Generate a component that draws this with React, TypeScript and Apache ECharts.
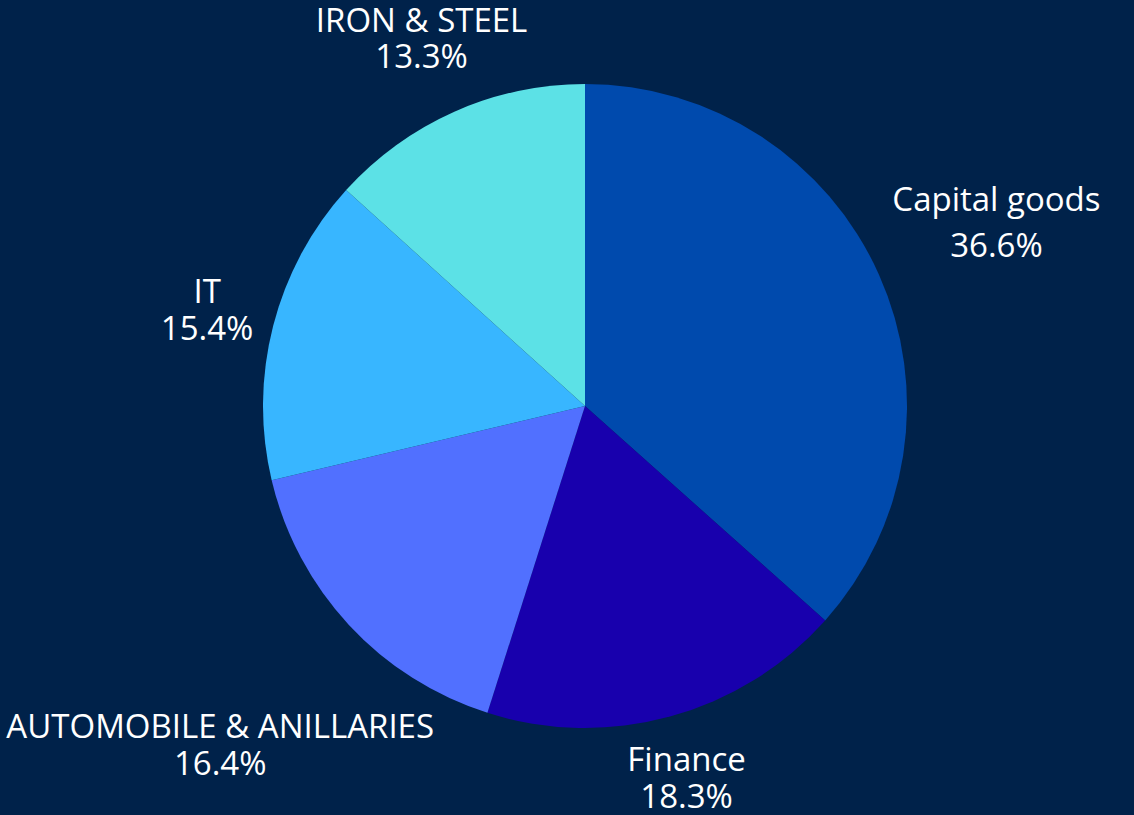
import React, { useEffect, useRef } from "react";
import * as echarts from "echarts";

const categories = ["Capital goods", "Finance", "AUTOMOBILE & ANILLARIES", "IT", "IRON & STEEL"];
const shares = [36.6, 18.3, 16.4, 15.4, 13.3];
const colors = ["#004AAD", "#1800AD", "#5170FF", "#38B6FF", "#5CE1E6"];
const lineHeights = [46, 37, 37, 37, 36];

const W = 1134;
const H = 815;
const CX = 585;
const CY = 406;
const R = 322;
const GAP = 15;

export default function App() {
  const ref = useRef<HTMLDivElement>(null);
  useEffect(() => {
    if (!ref.current) return;
    const chart = echarts.init(ref.current, undefined, { renderer: "svg" });
    const total = shares.reduce((s, v) => s + v, 0);
    const option = {
      animation: false,
      backgroundColor: "#00224A",
      series: [
        {
          type: "pie",
          center: [CX, CY],
          radius: [0, R],
          startAngle: 90,
          clockwise: true,
          avoidLabelOverlap: false,
          itemStyle: { borderWidth: 0 },
          label: {
            show: true,
            position: "outside",
            formatter: "{b}\n{c}%",
            color: "#ffffff",
            fontFamily: "'Open Sans', sans-serif",
            fontSize: 33,
            lineHeight: 37,
            align: "center",
          },
          labelLine: { show: false },
          labelLayout: (p: any) => {
            const i = p.dataIndex;
            let start = 0;
            for (let k = 0; k < i; k++) start += shares[k];
            const mid = ((start + shares[i] / 2) / total) * Math.PI * 2;
            const dx = Math.sin(mid);
            const dy = -Math.cos(mid);
            const a = p.labelRect.width / 2;
            const b = p.labelRect.height / 2;
            const target = R + GAP;
            let lo = 0;
            let hi = 2000;
            for (let n = 0; n < 60; n++) {
              const t = (lo + hi) / 2;
              const ex = Math.max(0, Math.abs(t * dx) - a);
              const ey = Math.max(0, Math.abs(t * dy) - b);
              const d = Math.hypot(ex, ey);
              if (d < target) lo = t;
              else hi = t;
            }
            const t = (lo + hi) / 2;
            return { x: CX + t * dx, y: CY + t * dy, align: "center", verticalAlign: "middle" };
          },
          data: categories.map((name, i) => ({
            name,
            value: shares[i],
            itemStyle: { color: colors[i] },
            label: { lineHeight: lineHeights[i] },
          })),
        },
      ],
    };
    chart.setOption(option as any);
    return () => chart.dispose();
  }, []);
  return (
    <div style={{ position: "fixed", left: 0, top: 0, width: W, height: H }}>
      <div ref={ref} style={{ width: W, height: H }} />
    </div>
  );
}
